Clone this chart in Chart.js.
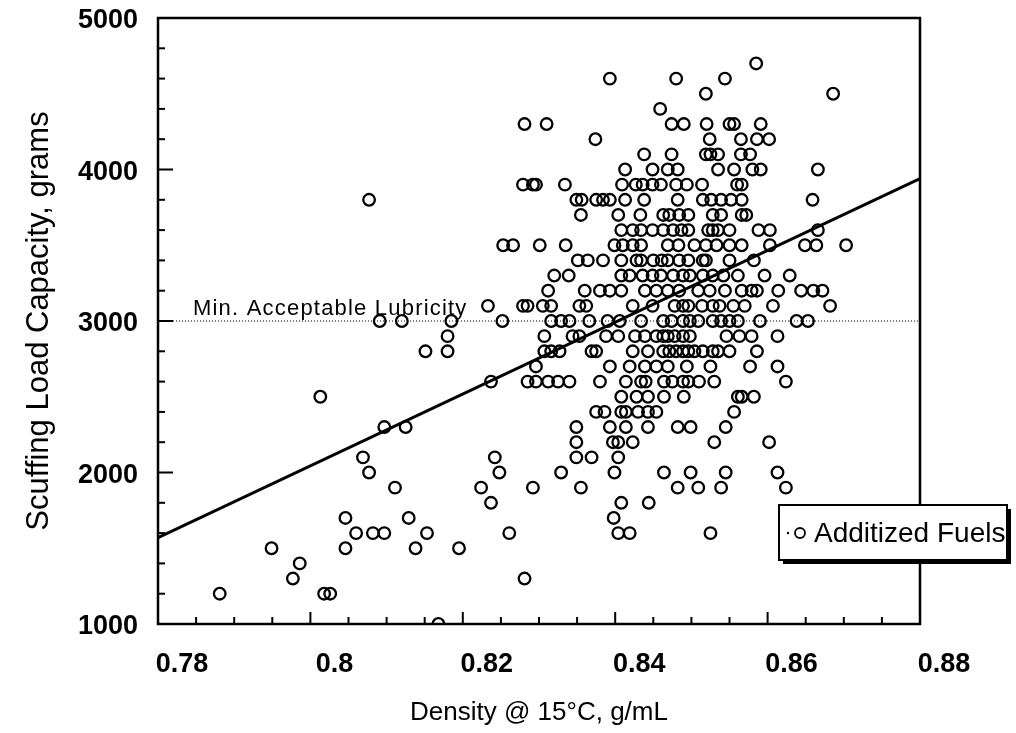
<!DOCTYPE html>
<html>
<head>
<meta charset="utf-8">
<script src="https://cdn.jsdelivr.net/npm/chart.js@4/dist/chart.umd.min.js"></script>
<style>
html, body { margin: 0; padding: 0; background: #fff; }
#wrap { width: 1016px; height: 733px; position: relative; }
</style>
</head>
<body>
<div id="wrap"><canvas id="chart"></canvas></div>
<script>
// scuffing load levels (grams), one row of densities (g/mL) per level
const loadLevels = [4700, 4600, 4500, 4400, 4300, 4200, 4100, 4000, 3900, 3800,
  3700, 3600, 3500, 3400, 3300, 3200, 3100, 3000, 2900, 2800,
  2700, 2600, 2500, 2400, 2300, 2200, 2100, 2000, 1900, 1800,
  1700, 1600, 1500, 1400, 1300, 1200, 1000];

const densityRows = [
  [0.8585],
  [0.8393, 0.8480, 0.8544],
  [0.8519, 0.8686],
  [0.8459],
  [0.8281, 0.8310, 0.8474, 0.8490, 0.8520, 0.8550, 0.8556, 0.8591],
  [0.8374, 0.8524, 0.8565, 0.8586, 0.8602],
  [0.8438, 0.8474, 0.8519, 0.8525, 0.8535, 0.8565, 0.8577],
  [0.8413, 0.8449, 0.8469, 0.8482, 0.8535, 0.8556, 0.8580, 0.8591, 0.8666],
  [0.8279, 0.8292, 0.8296, 0.8334, 0.8409, 0.8427, 0.8436, 0.8449, 0.8460, 0.8480, 0.8494, 0.8514, 0.8560, 0.8566],
  [0.8077, 0.8349, 0.8356, 0.8375, 0.8384, 0.8393, 0.8413, 0.8438, 0.8482, 0.8515, 0.8526, 0.8539, 0.8552, 0.8566, 0.8659],
  [0.8355, 0.8404, 0.8433, 0.8463, 0.8471, 0.8484, 0.8496, 0.8528, 0.8539, 0.8566, 0.8572],
  [0.8408, 0.8423, 0.8434, 0.8449, 0.8463, 0.8476, 0.8487, 0.8496, 0.8522, 0.8528, 0.8535, 0.8550, 0.8588, 0.8603, 0.8666],
  [0.8253, 0.8266, 0.8301, 0.8335, 0.8399, 0.8410, 0.8423, 0.8434, 0.8469, 0.8483, 0.8504, 0.8519, 0.8533, 0.8550, 0.8566, 0.8603, 0.8649, 0.8664, 0.8703],
  [0.8351, 0.8364, 0.8384, 0.8408, 0.8428, 0.8434, 0.8450, 0.8461, 0.8469, 0.8484, 0.8496, 0.8515, 0.8519, 0.8550, 0.8582],
  [0.8320, 0.8339, 0.8408, 0.8419, 0.8436, 0.8449, 0.8460, 0.8476, 0.8489, 0.8498, 0.8515, 0.8528, 0.8542, 0.8561, 0.8596, 0.8629],
  [0.8312, 0.8360, 0.8380, 0.8393, 0.8408, 0.8439, 0.8454, 0.8469, 0.8484, 0.8509, 0.8524, 0.8544, 0.8566, 0.8579, 0.8586, 0.8614, 0.8644, 0.8660, 0.8672],
  [0.8233, 0.8279, 0.8285, 0.8305, 0.8316, 0.8353, 0.8362, 0.8423, 0.8449, 0.8478, 0.8489, 0.8496, 0.8514, 0.8528, 0.8537, 0.8555, 0.8570, 0.8607, 0.8682],
  [0.8091, 0.8120, 0.8185, 0.8252, 0.8316, 0.8329, 0.8340, 0.8366, 0.8390, 0.8406, 0.8434, 0.8463, 0.8474, 0.8489, 0.8498, 0.8509, 0.8528, 0.8539, 0.8550, 0.8561, 0.8590, 0.8638, 0.8653],
  [0.8180, 0.8307, 0.8344, 0.8353, 0.8388, 0.8404, 0.8426, 0.8439, 0.8454, 0.8463, 0.8469, 0.8478, 0.8489, 0.8498, 0.8546, 0.8563, 0.8579, 0.8613],
  [0.8151, 0.8180, 0.8307, 0.8316, 0.8327, 0.8369, 0.8375, 0.8423, 0.8443, 0.8463, 0.8471, 0.8480, 0.8489, 0.8496, 0.8504, 0.8515, 0.8528, 0.8535, 0.8550, 0.8586],
  [0.8296, 0.8393, 0.8419, 0.8439, 0.8454, 0.8469, 0.8494, 0.8525, 0.8577, 0.8613],
  [0.8237, 0.8285, 0.8296, 0.8312, 0.8325, 0.8340, 0.8380, 0.8414, 0.8434, 0.8440, 0.8464, 0.8475, 0.8489, 0.8496, 0.8510, 0.8530, 0.8624],
  [0.8013, 0.8408, 0.8428, 0.8443, 0.8464, 0.8490, 0.8561, 0.8566, 0.8582],
  [0.8375, 0.8386, 0.8408, 0.8414, 0.8430, 0.8443, 0.8454, 0.8556],
  [0.8097, 0.8125, 0.8349, 0.8393, 0.8414, 0.8443, 0.8482, 0.8499, 0.8545],
  [0.8349, 0.8397, 0.8404, 0.8423, 0.8530, 0.8602],
  [0.8069, 0.8242, 0.8349, 0.8369, 0.8404],
  [0.8077, 0.8248, 0.8329, 0.8399, 0.8464, 0.8499, 0.8545, 0.8613],
  [0.8111, 0.8224, 0.8292, 0.8355, 0.8482, 0.8509, 0.8539, 0.8624],
  [0.8237, 0.8408, 0.8444],
  [0.8046, 0.8129, 0.8398],
  [0.8060, 0.8082, 0.8097, 0.8153, 0.8261, 0.8404, 0.8419, 0.8525],
  [0.7949, 0.8046, 0.8138, 0.8195],
  [0.7986],
  [0.7977, 0.8281],
  [0.7881, 0.8018, 0.8026],
  [0.8168]
];

// regression line end points and the lubricity limit
const fitDensity = [0.78, 0.88];
const fitLoad = [1570, 3940];
const minLubricity = 3000;

const seriesLabel = 'Additized Fuels';
const limitLabel = 'Min. Acceptable Lubricity';
const xTitle = 'Density @ 15\u00B0C, g/mL';
const yTitle = 'Scuffing Load Capacity, grams';

const points = [];
loadLevels.forEach((load, i) => {
  densityRows[i].forEach(d => points.push({ x: d, y: load }));
});
const fitLine = fitDensity.map((d, i) => ({ x: d, y: fitLoad[i] }));
const limitLine = fitDensity.map(d => ({ x: d, y: minLubricity }));

const FONT = '"Liberation Sans", Arial, Helvetica, sans-serif';

// frame, inward ticks, limit label and the boxed legend
const decor = {
  id: 'decor',
  beforeDatasetsDraw(chart) {
    const { ctx, chartArea: a, scales: { x, y } } = chart;
    ctx.save();
    ctx.strokeStyle = '#000';
    ctx.lineWidth = 2.5;
    ctx.strokeRect(a.left, a.top, a.right - a.left, a.bottom - a.top);
    ctx.lineWidth = 2;
    for (let k = 0; k <= 20; k++) {
      const px = x.getPixelForValue(0.78 + k * 0.005);
      const len = k % 4 === 0 ? 12 : 7;
      ctx.beginPath();
      ctx.moveTo(px, a.bottom);
      ctx.lineTo(px, a.bottom - len);
      ctx.stroke();
    }
    for (let k = 0; k <= 20; k++) {
      const py = y.getPixelForValue(1000 + k * 200);
      const len = k % 5 === 0 ? 15 : 7;
      ctx.beginPath();
      ctx.moveTo(a.left, py);
      ctx.lineTo(a.left + len, py);
      ctx.stroke();
    }
    ctx.fillStyle = '#000';
    ctx.font = '22px ' + FONT;
    ctx.letterSpacing = '1.2px';
    ctx.textBaseline = 'alphabetic';
    ctx.fillText(limitLabel, a.left + 35, y.getPixelForValue(minLubricity) - 6);
    ctx.restore();
  },
  afterDraw(chart) {
    const { ctx } = chart;
    const bx = 779, by = 505, bw = 228, bh = 55;
    ctx.save();
    ctx.fillStyle = '#000';
    ctx.fillRect(bx + 4, by + 4, bw, bh);
    ctx.fillStyle = '#fff';
    ctx.fillRect(bx, by, bw, bh);
    ctx.strokeStyle = '#000';
    ctx.lineWidth = 2;
    ctx.strokeRect(bx, by, bw, bh);
    ctx.fillStyle = '#000';
    ctx.beginPath();
    ctx.arc(bx + 9, by + 28, 1.2, 0, Math.PI * 2);
    ctx.fill();
    ctx.lineWidth = 1.8;
    ctx.beginPath();
    ctx.arc(bx + 21, by + 28, 5, 0, Math.PI * 2);
    ctx.stroke();
    ctx.font = '28px ' + FONT;
    ctx.textBaseline = 'middle';
    ctx.fillText(seriesLabel, bx + 35, by + 29);
    ctx.restore();
  }
};

new Chart(document.getElementById('chart'), {
  type: 'scatter',
  data: {
    datasets: [{
      label: seriesLabel,
      data: points,
      pointStyle: 'circle',
      pointRadius: 5.8,
      pointHoverRadius: 5.8,
      pointBorderWidth: 2.3,
      borderColor: '#000',
      backgroundColor: 'rgba(0,0,0,0)',
      order: 2
    },
    {
      type: 'line',
      data: limitLine,
      borderColor: '#000',
      borderWidth: 1,
      borderDash: [1, 2],
      pointRadius: 0,
      fill: false,
      order: 1
    },
    {
      type: 'line',
      data: fitLine,
      borderColor: '#000',
      borderWidth: 3,
      pointRadius: 0,
      fill: false,
      order: 0
    }]
  },
  options: {
    responsive: true,
    maintainAspectRatio: false,
    animation: false,
    layout: { padding: { top: 0, right: 96, bottom: 0, left: 0 } },
    plugins: {
      legend: { display: false },
      tooltip: { enabled: false }
    },
    scales: {
      x: {
        type: 'linear',
        min: 0.78,
        max: 0.88,
        grid: { display: false, drawTicks: false },
        border: { display: false },
        ticks: {
          stepSize: 0.02,
          color: '#000',
          font: { family: FONT, size: 27, weight: 'bold' },
          padding: 24,
          labelOffset: 24,
          maxRotation: 0,
          callback: v => String(Number(v.toFixed(2)))
        },
        title: {
          display: true,
          text: xTitle,
          color: '#000',
          font: { family: FONT, size: 26 },
          padding: { top: 0, bottom: 5 }
        },
        afterFit: s => { s.height = 109; }
      },
      y: {
        min: 1000,
        max: 5000,
        grid: { display: false, drawTicks: false },
        border: { display: false },
        ticks: {
          stepSize: 1000,
          color: '#000',
          font: { family: FONT, size: 27, weight: 'bold' },
          padding: 20,
          labelOffset: 3,
          callback: v => String(v)
        },
        title: {
          display: true,
          text: yTitle,
          color: '#000',
          font: { family: FONT, size: 31 },
          padding: { top: 21, bottom: 0 }
        },
        afterFit: s => {
          s.width = 158;
          s.paddingTop = 18;
          s.paddingBottom = 0;
        }
      }
    }
  },
  plugins: [decor]
});
</script>
</body>
</html>
